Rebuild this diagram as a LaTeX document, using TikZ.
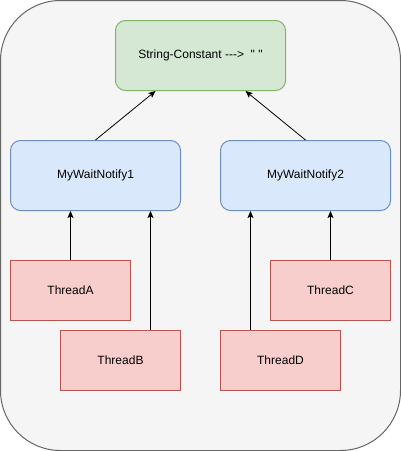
\documentclass[tikz,border=0pt]{standalone}
\usepackage{fontspec}
\setmainfont{Liberation Sans}
\newfontfamily\rawfont{Liberation Sans}
\usetikzlibrary{arrows.meta,positioning}
\definecolor{bgfill}{HTML}{F5F5F5}
\definecolor{bgdraw}{HTML}{666666}
\definecolor{gfill}{HTML}{D5E8D4}
\definecolor{gdraw}{HTML}{82B366}
\definecolor{bfill}{HTML}{DAE8FC}
\definecolor{bdraw}{HTML}{6C8EBF}
\definecolor{rfill}{HTML}{F8CECC}
\definecolor{rdraw}{HTML}{B85450}
\tikzset{
  box/.style={draw, line width=1pt, inner sep=0pt, anchor=north west, font=\rawfont\fontsize{12}{14}\selectfont},
  greenbox/.style={box, fill=gfill, draw=gdraw, rounded corners=10pt, minimum width=170pt, minimum height=70pt},
  bluebox/.style={box, fill=bfill, draw=bdraw, rounded corners=10pt, minimum width=170pt, minimum height=70pt},
  redbox/.style={box, fill=rfill, draw=rdraw, minimum width=120pt, minimum height=60pt},
  arr/.style={draw=black, line width=0.8pt, -{Stealth[length=7pt,width=6pt,inset=1.5pt]}}
}
\begin{document}
\begin{tikzpicture}[x=1pt,y=-1pt]
\useasboundingbox (0,0) rectangle (401,451);
\draw[fill=bgfill, draw=bgdraw, line width=1pt, rounded corners=60pt] (0.5,0.5) rectangle (400.5,450.5);
\node[greenbox] (sc) at (115,20) {String-Constant --->\ \ " "};
\node[bluebox] (w1) at (10,140) {MyWaitNotify1};
\node[bluebox] (w2) at (220,140) {MyWaitNotify2};
\node[redbox] (ta) at (10,260) {ThreadA};
\node[redbox] (tb) at (60,330) {ThreadB};
\node[redbox] (tc) at (270,260) {ThreadC};
\node[redbox] (td) at (220,330) {ThreadD};
\draw[arr] (w1.north) -- ([xshift=-45pt]sc.south);
\draw[arr] (w2.north) -- ([xshift=45pt]sc.south);
\draw[arr] (ta.north) -- (ta.north |- w1.south);
\draw[arr] ([xshift=30pt]tb.north) -- ([xshift=30pt]tb.north |- w1.south);
\draw[arr] ([xshift=-30pt]td.north) -- ([xshift=-30pt]td.north |- w2.south);
\draw[arr] (tc.north) -- (tc.north |- w2.south);
\end{tikzpicture}
\end{document}
